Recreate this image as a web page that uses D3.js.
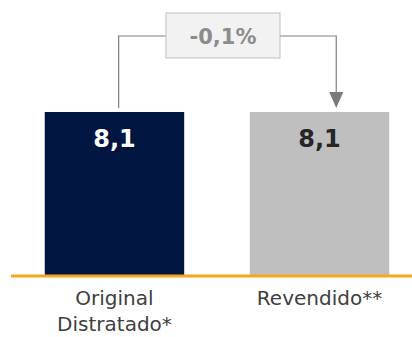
<!DOCTYPE html>
<html>
<head>
<meta charset="utf-8">
<script src="https://cdn.jsdelivr.net/npm/d3@7/dist/d3.min.js"></script>
<style>
  html, body { margin: 0; padding: 0; background: #fff; }
  svg { display: block; }
  text { font-family: "DejaVu Sans", Verdana, sans-serif; }
</style>
</head>
<body>
<svg id="chart" width="412" height="337"></svg>
<script>
// Chart data
const categories = ["Original\nDistratado*", "Revendido**"];
const values = [8.1, 8.1];
const valueLabels = ["8,1", "8,1"];
const barColors = ["#001641", "#bfbfbf"];
const labelColors = ["#ffffff", "#262626"];
const changeLabel = "-0,1%";

const svg = d3.select("#chart");

const x = d3.scaleBand()
  .domain(categories)
  .range([14, 420])
  .paddingInner(0.32)
  .paddingOuter(0.15);

const y = d3.scaleLinear()
  .domain([0, 8.1])
  .range([275, 112]);

// Bars
svg.selectAll("rect.bar")
  .data(values)
  .join("rect")
  .attr("class", "bar")
  .attr("x", (d, i) => x(categories[i]))
  .attr("y", d => y(d))
  .attr("width", x.bandwidth())
  .attr("height", d => y(0) - y(d))
  .attr("fill", (d, i) => barColors[i]);

// Value labels inside bars
svg.selectAll("text.val")
  .data(values)
  .join("text")
  .attr("class", "val")
  .attr("x", (d, i) => x(categories[i]) + x.bandwidth() / 2)
  .attr("y", d => y(d) + 35)
  .attr("text-anchor", "middle")
  .attr("font-size", 24)
  .attr("font-weight", "bold")
  .attr("fill", (d, i) => labelColors[i])
  .text((d, i) => valueLabels[i]);

// Baseline
svg.append("line")
  .attr("x1", 11).attr("x2", 412)
  .attr("y1", y(0) + 1).attr("y2", y(0) + 1)
  .attr("stroke", "#f5a81c")
  .attr("stroke-width", 3);

// Category axis labels
const xAxis = svg.append("g");
categories.forEach((c, i) => {
  const t = xAxis.append("text")
    .attr("x", x(c) + x.bandwidth() / 2)
    .attr("y", 305)
    .attr("text-anchor", "middle")
    .attr("font-size", 20)
    .attr("fill", "#404040");
  c.split("\n").forEach((line, j) => {
    t.append("tspan")
      .attr("x", x(c) + x.bandwidth() / 2)
      .attr("dy", j === 0 ? 0 : 26)
      .text(line);
  });
});

// Change connector between bars
const x1 = x(categories[0]) + x.bandwidth() * 0.53;
const x2 = x(categories[1]) + x.bandwidth() * 0.62;
const topY = 36;
const boxL = 166, boxR = 280, boxT = 13, boxB = 58;
const stroke = "#808080";

svg.append("path")
  .attr("d", `M${x1},${y(values[0]) - 4} V${topY} H${boxL}`)
  .attr("fill", "none")
  .attr("stroke", stroke)
  .attr("stroke-width", 1.2);

svg.append("path")
  .attr("d", `M${boxR},${topY} H${x2} V${y(values[1]) - 18}`)
  .attr("fill", "none")
  .attr("stroke", stroke)
  .attr("stroke-width", 1.2);

// Arrow head
const tipY = y(values[1]) - 4;
svg.append("path")
  .attr("d", `M${x2 - 7},${tipY - 16} L${x2 + 7},${tipY - 16} L${x2},${tipY} Z`)
  .attr("fill", "#7a7a7a");

svg.append("rect")
  .attr("x", boxL).attr("y", boxT)
  .attr("width", boxR - boxL).attr("height", boxB - boxT)
  .attr("fill", "#f2f2f2")
  .attr("stroke", "#bfbfbf")
  .attr("stroke-width", 1);

svg.append("text")
  .attr("x", (boxL + boxR) / 2)
  .attr("y", 43.5)
  .attr("text-anchor", "middle")
  .attr("font-size", 21)
  .attr("font-weight", "bold")
  .attr("fill", "#8c8c8c")
  .text(changeLabel);
</script>
</body>
</html>
